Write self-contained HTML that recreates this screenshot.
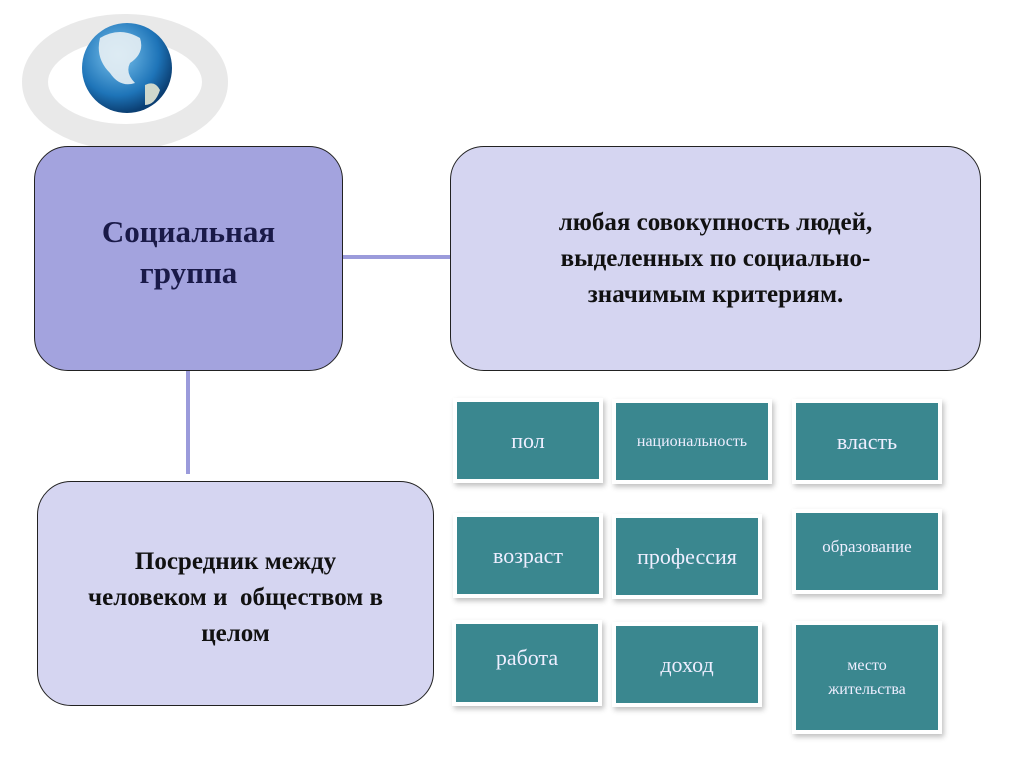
<!DOCTYPE html>
<html><head><meta charset="utf-8"><style>
body{margin:0;width:1024px;height:767px;background:#fff;position:relative;overflow:hidden;font-family:"Liberation Serif",serif}
.b{position:absolute;box-sizing:border-box;border:1.5px solid #222;border-radius:34px;display:flex;align-items:center;justify-content:center;text-align:center;font-weight:bold;color:#111}
.t{position:absolute;box-sizing:border-box;background:#3a878f;color:#eef;display:flex;align-items:center;justify-content:center;text-align:center;font-size:22px;line-height:28px;box-shadow:0 0 0 4px #fff,2px 3px 5px 4px rgba(0,0,0,.25)}
.l{position:absolute;background:#9b9bdb}
</style></head><body>
<svg style="position:absolute;left:0;top:0" width="280" height="150">
<defs><radialGradient id="g" cx="40%" cy="35%" r="65%"><stop offset="0" stop-color="#7cc4ee"/><stop offset=".7" stop-color="#1e74b8"/><stop offset="1" stop-color="#0b3f73"/></radialGradient></defs>
<ellipse cx="125" cy="82" rx="90" ry="55" fill="none" stroke="#e4e4e4" stroke-width="26" opacity=".8"/>
<circle cx="127" cy="68" r="45" fill="url(#g)"/>
<path d="M100 38 q20 -12 40 0 q5 15 -10 25 q-5 10 5 20 q-15 5 -25 -10 q-15 -15 -10 -35z" fill="#e8f0f4" opacity=".9"/>
<path d="M145 85 q10 -5 15 5 q-5 15 -15 15z" fill="#cfd8cc"/>
</svg>
<div class="l" style="left:342px;top:255px;width:110px;height:4px"></div>
<div class="l" style="left:186px;top:370px;width:4px;height:104px"></div>
<div class="b" style="left:34px;top:146px;width:309px;height:225px;background:#a3a3de;font-size:31px;line-height:41px;color:#1a1a48;padding-bottom:14px">Социальная<br>группа</div>
<div class="b" style="left:450px;top:146px;width:531px;height:225px;background:#d5d5f1;font-size:25px;line-height:36px;padding-bottom:0">любая совокупность людей,<br>выделенных по социально-<br>значимым критериям.</div>
<div class="b" style="left:37px;top:481px;width:397px;height:225px;background:#d5d5f1;font-size:25px;line-height:36px;padding-top:8px">Посредник между<br>человеком и&nbsp; обществом в<br>целом</div>
<div class="t" style="left:457px;top:402px;width:142px;height:77px">пол</div>
<div class="t" style="left:616px;top:403px;width:152px;height:77px;font-size:16px">национальность</div>
<div class="t" style="left:796px;top:403px;width:142px;height:77px">власть</div>
<div class="t" style="left:457px;top:517px;width:142px;height:77px">возраст</div>
<div class="t" style="left:616px;top:518px;width:142px;height:77px">профессия</div>
<div class="t" style="left:796px;top:513px;width:142px;height:77px;font-size:17px;padding-bottom:10px">образование</div>
<div class="t" style="left:456px;top:624px;width:142px;height:78px;padding-bottom:10px">работа</div>
<div class="t" style="left:616px;top:626px;width:142px;height:77px">доход</div>
<div class="t" style="left:796px;top:625px;width:142px;height:105px;font-size:16px;line-height:24px">место<br>жительства</div>
</body></html>
